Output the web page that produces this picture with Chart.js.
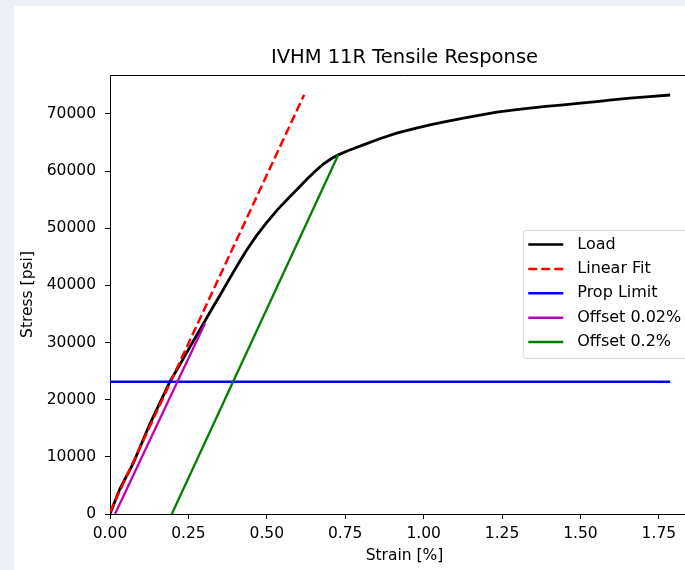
<!DOCTYPE html>
<html>
<head>
<meta charset="utf-8">
<script src="https://cdn.jsdelivr.net/npm/chart.js@4.4.0/dist/chart.umd.min.js"></script>
<style>
  html, body { margin: 0; padding: 0; overflow: hidden; background: #eef0f8; width: 685px; height: 570px; }
  #card { position: absolute; left: 14px; top: 6px; width: 671px; height: 564px; background: #fff; overflow: hidden; }
  #wrap { position: relative; width: 700px; height: 564px; }
</style>
</head>
<body>
<div id="card"><div id="wrap"><canvas id="chart"></canvas></div></div>
<script>
// measured load curve (strain in %, stress in psi)
const loadStrain = [0, 0.010, 0.032, 0.074, 0.128, 0.191, 0.215, 0.236, 0.263, 0.302, 0.325, 0.349, 0.370, 0.390, 0.412, 0.434,
  0.466, 0.498, 0.535, 0.574, 0.600, 0.630, 0.655, 0.680, 0.705, 0.728,
  0.760, 0.808, 0.860, 0.914, 0.970, 1.020, 1.070, 1.127, 1.180, 1.233, 1.290, 1.339, 1.390, 1.446, 1.500, 1.552, 1.600, 1.658, 1.720, 1.786];
const loadStress = [0, 1400, 4450, 8870, 15870, 23150, 25400, 27400, 30000, 33700, 35900, 38100, 40100, 42000, 44050, 46000,
  48600, 50870, 53300, 55530, 57000, 58700, 60000, 61200, 62150, 62830,
  63600, 64580, 65650, 66620, 67400, 68080, 68650, 69250, 69800, 70300, 70680, 71000, 71300, 71580, 71880, 72160, 72450, 72750, 73000, 73300];

// linear fit of the elastic part
const fitStrain = [0, 0.619];
const fitStress = [350, 73330];

// proportional limit
const propStrain = [0, 1.786];
const propStress = [23150, 23150];

// offset lines
const off002Strain = [0.016, 0.303];
const off002Stress = [0, 33370];
const off02Strain = [0.197, 0.728];
const off02Stress = [0, 62830];

const xTicks = [0, 0.25, 0.5, 0.75, 1.0, 1.25, 1.5, 1.75];
const yTicks = [0, 10000, 20000, 30000, 40000, 50000, 60000, 70000];

function pts(xs, ys) {
  return xs.map((x, i) => ({ x: x, y: ys[i] }));
}

const FONT = 'DejaVu Sans';
Chart.defaults.font.family = FONT;
Chart.defaults.color = '#000';

// top spine (the right one is cropped off)
const frame = {
  id: 'frame',
  afterDatasetsDraw(chart) {
    const { ctx, chartArea: a } = chart;
    const t = Math.round(a.top) + 0.5;
    ctx.save();
    ctx.strokeStyle = '#000';
    ctx.lineWidth = 1;
    ctx.beginPath();
    ctx.moveTo(a.left, t);
    ctx.lineTo(a.right, t);
    ctx.stroke();
    ctx.restore();
  }
};

// matplotlib style legend, center right inside the axes
const legendBox = {
  id: 'legendBox',
  afterDraw(chart) {
    const { ctx, chartArea } = chart;
    const items = chart.data.datasets;
    const fs = 16, row = 24.4;
    ctx.save();
    ctx.font = fs + 'px "' + FONT + '"';
    const textW = Math.max(...items.map(d => ctx.measureText(d.label).width));
    const w = 54 + textW + 10, h = 128;
    const x = chartArea.right - 7.75 - w;
    const y = (chartArea.top + chartArea.bottom) / 2 - h / 2;
    ctx.fillStyle = 'rgba(255,255,255,0.8)';
    ctx.strokeStyle = 'rgba(204,204,204,0.8)';
    ctx.lineWidth = 1;
    ctx.beginPath();
    ctx.roundRect(x, y, w, h, 3);
    ctx.fill();
    ctx.stroke();
    items.forEach((d, i) => {
      const cy = y + 14 + i * row;
      ctx.strokeStyle = d.borderColor;
      ctx.lineWidth = 2.5;
      ctx.setLineDash(d.borderDash || []);
      ctx.beginPath();
      ctx.moveTo(x + 5, cy);
      ctx.lineTo(x + 40, cy);
      ctx.stroke();
      ctx.setLineDash([]);
      ctx.fillStyle = '#000';
      ctx.textBaseline = 'middle';
      ctx.textAlign = 'left';
      ctx.fillText(d.label, x + 54, cy);
    });
    ctx.restore();
  }
};

const tickFont = { family: FONT, size: 15.5 };

new Chart(document.getElementById('chart'), {
  type: 'line',
  data: {
    datasets: [
      { label: 'Load', data: pts(loadStrain, loadStress), borderColor: '#000000', borderWidth: 2.8, order: 5 },
      { label: 'Linear Fit', data: pts(fitStrain, fitStress), borderColor: '#ff0000', borderWidth: 2.5, borderDash: [9, 4], order: 4 },
      { label: 'Prop Limit', data: pts(propStrain, propStress), borderColor: '#0000ff', borderWidth: 2.5, order: 3 },
      { label: 'Offset 0.02%', data: pts(off002Strain, off002Stress), borderColor: '#bf00bf', borderWidth: 2.3, order: 2 },
      { label: 'Offset 0.2%', data: pts(off02Strain, off02Stress), borderColor: '#008000', borderWidth: 2.3, order: 1 }
    ]
  },
  options: {
    responsive: true,
    maintainAspectRatio: false,
    animation: false,
    elements: { point: { radius: 0 }, line: { tension: 0 } },
    layout: { padding: { top: 0, right: 15, bottom: 0, left: 0 } },
    plugins: {
      legend: { display: false },
      tooltip: { enabled: false },
      title: {
        display: true,
        text: 'IVHM 11R Tensile Response',
        color: '#000',
        fullSize: false,
        font: { family: FONT, size: 19.5, weight: 'normal' },
        padding: { top: 39.8, bottom: 5.8 }
      }
    },
    scales: {
      x: {
        type: 'linear',
        min: 0,
        max: 1.878,
        afterBuildTicks: s => { s.ticks = xTicks.map(v => ({ value: v })); },
        afterFit: s => { s.height = 56; },
        ticks: { callback: v => v.toFixed(2), color: '#000', font: tickFont, padding: 6, maxRotation: 0, autoSkip: false },
        grid: { drawOnChartArea: false, tickLength: 5, color: '#000' },
        border: { color: '#000', width: 1 },
        title: { display: true, text: 'Strain [%]', color: '#000', font: tickFont, padding: { top: 0, bottom: 4.7 } }
      },
      y: {
        min: 0,
        max: 76800,
        afterBuildTicks: s => { s.ticks = yTicks.map(v => ({ value: v })); },
        afterFit: s => { s.width = 96; },
        ticks: { callback: v => String(v), color: '#000', font: tickFont, padding: 9, autoSkip: false },
        grid: { drawOnChartArea: false, tickLength: 5, color: '#000' },
        border: { color: '#000', width: 1 },
        title: { display: true, text: 'Stress [psi]', color: '#000', font: tickFont, padding: { top: 4.7, bottom: 0 } }
      }
    }
  },
  plugins: [frame, legendBox]
});
</script>
</body>
</html>
